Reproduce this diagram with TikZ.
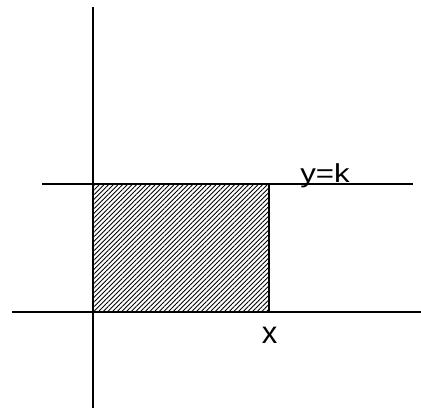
\documentclass[tikz,border=0pt]{standalone}
\usepackage{fontspec}
\setmainfont{Liberation Sans}
\usetikzlibrary{patterns.meta}
\begin{document}
\begin{tikzpicture}[x=1pt,y=1pt,
  axis/.style={line width=2.2pt},
  lbl/.style={inner sep=0pt,anchor=base}]
\useasboundingbox (0,0) rectangle (421,410);
% hatched region
\path[pattern={Lines[angle=45,distance=3.3pt,line width=0.9pt]}] (93,98) rectangle (269,226);
\coordinate (vtop) at (93,403);
\coordinate (vbot) at (93,1.5);
\coordinate (xl) at (12,98);
\coordinate (xr) at (421,98);
\coordinate (kl) at (42,226);
\coordinate (kr) at (413,226);
\coordinate (r1) at (269,226);
\coordinate (r2) at (269,98);
\draw[axis] (vbot) -- (vtop);
\draw[axis] (xl) -- (xr);
\draw[axis] (kl) -- (kr);
\draw[axis] (r1) -- (r2);
\node[lbl,font=\fontsize{26}{30}\selectfont,xscale=1.2] (yk) at (325,227) {y=k};
\node[lbl,font=\fontsize{31}{36}\selectfont] (xlab) at (269.5,66) {x};
\end{tikzpicture}
\end{document}
